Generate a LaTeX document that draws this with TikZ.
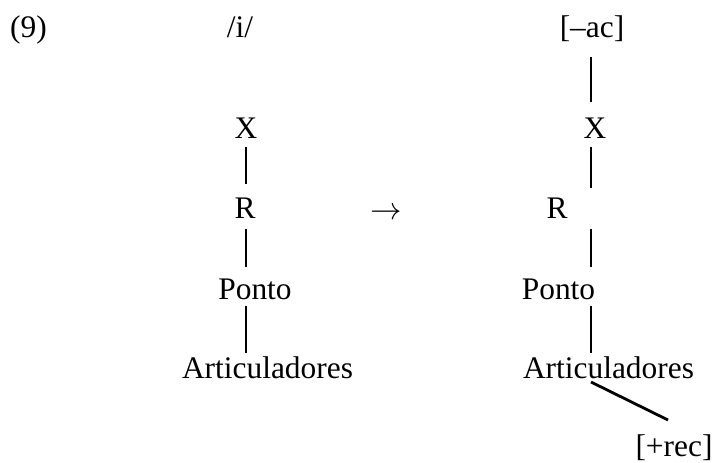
\documentclass[tikz,border=0pt]{standalone}
\usepackage{fix-cm}
\usepackage{fontspec}
\setmainfont{Liberation Serif}
\begin{document}
\begin{tikzpicture}[x=1pt,y=-1pt,
  lbl/.style={inner sep=0pt,anchor=base,font=\fontsize{31.4}{36}\selectfont},
  link/.style={line width=2.8pt,line cap=butt}]
\useasboundingbox (0,0) rectangle (715,463);
\fill[white] (0,0) rectangle (715,463);

% example number and underlying segment
\node[lbl,anchor=base west] (num) at (10,37.5) {(9)};
\node[lbl] (seg) at (240,37.5) {/i/};

% input structure
\node[lbl] (x1) at (246,138) {X};
\node[lbl] (r1) at (245,218) {R};
\node[lbl] (p1) at (255,299) {Ponto};
\node[lbl] (a1) at (267.5,378) {Articuladores};

% rule arrow
\node[lbl] (arr) at (386,219) {$\rightarrow$};

% output structure
\node[lbl] (ac) at (592,37.5) {[–ac]};
\node[lbl] (x2) at (595,138) {X};
\node[lbl] (r2) at (557,218) {R};
\node[lbl] (p2) at (558.5,299) {Ponto};
\node[lbl] (a2) at (608.5,378) {Articuladores};
\node[lbl] (rec) at (674,456) {[+rec]};

% association line end points
\coordinate (x1b) at (246,147);  \coordinate (r1t) at (246,184);
\coordinate (r1b) at (246,229);  \coordinate (p1t) at (246,267);
\coordinate (p1b) at (246,306);  \coordinate (a1t) at (246,353);

\coordinate (acb) at (591,57);   \coordinate (x2t) at (591,102);
\coordinate (x2b) at (591,147);  \coordinate (r2t) at (591,188);
\coordinate (r2b) at (591,229);  \coordinate (p2t) at (591,267);
\coordinate (p2b) at (591,306);  \coordinate (a2t) at (591,353);
\coordinate (a2b) at (591,382);  \coordinate (rect) at (668,420);

\draw[link] (x1b) -- (r1t);
\draw[link] (r1b) -- (p1t);
\draw[link] (p1b) -- (a1t);

\draw[link] (acb) -- (x2t);
\draw[link] (x2b) -- (r2t);
\draw[link] (r2b) -- (p2t);
\draw[link] (p2b) -- (a2t);
\draw[link] (a2b) -- (rect);
\end{tikzpicture}
\end{document}
